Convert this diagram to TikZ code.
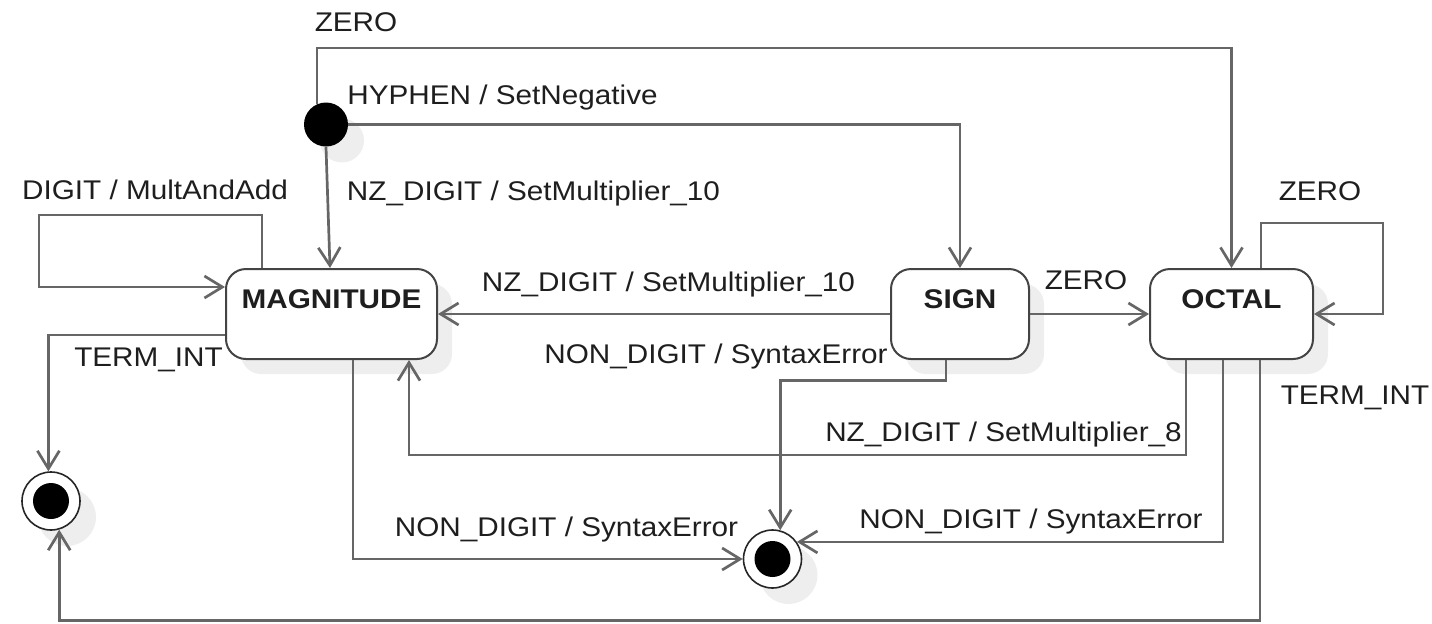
\documentclass[tikz,border=0pt]{standalone}
\usepackage{fontspec}
\setmainfont{Liberation Sans}[FakeStretch=1.1]
\usetikzlibrary{arrows.meta,calc,shadows}
\definecolor{edgecol}{HTML}{666666}
\definecolor{bordercol}{HTML}{444444}
\definecolor{textcol}{HTML}{1E1E1E}
\definecolor{shadowcol}{HTML}{EEEEEE}
\begin{document}
\begin{tikzpicture}[x=0.5pt,y=-0.5pt,
  every node/.style={font=\fontsize{13.5pt}{16pt}\selectfont, text=textcol},
  stbox/.style={draw=bordercol, line width=1pt, fill=white, rounded corners=10pt,
    minimum height=45pt, inner sep=0pt,
    general shadow={fill=shadowcol, shadow xshift=7.5pt, shadow yshift=-7.5pt}},
  title/.style={anchor=base, inner sep=0pt, font=\fontsize{13.5pt}{16pt}\selectfont\bfseries},
  initdot/.style={circle, fill=black, minimum size=22pt, inner sep=0pt,
    general shadow={fill=shadowcol, shadow xshift=8pt, shadow yshift=-8pt}},
  finalstate/.style={circle, draw=black!85, line width=0.8pt, fill=white, minimum size=29pt, inner sep=0pt,
    path picture={\fill[black] (path picture bounding box.center) circle (9pt);},
    general shadow={fill=shadowcol, shadow xshift=8pt, shadow yshift=-8pt}},
  lbl/.style={anchor=base, inner sep=0pt},
  conn/.style={draw=edgecol, line width=1.35pt, -{Straight Barb[length=9pt,width=11pt]}}
]
\useasboundingbox (0,0) rectangle (1432,623);

% states
\node[stbox, minimum width=105.5pt] (mag) at (331.5,314) {};
\node[stbox, minimum width=69pt] (sign) at (960,314) {};
\node[stbox, minimum width=81.5pt] (octal) at (1231.5,314) {};
\node[title] (magT) at ($(mag.north)+(0,40)$) {MAGNITUDE};
\node[title] (signT) at ($(sign.north)+(0,40)$) {SIGN};
\node[title] (octalT) at ($(octal.north)+(0,40)$) {OCTAL};
\node[initdot] (init) at (326,124.5) {};
\node[finalstate] (finL) at (51,501) {};
\node[finalstate] (finM) at (772.5,559) {};

% transitions from initial
\draw[conn] (init.114) |- ($(octal.north)+(0,-220)$) -- (octal.north);
\draw[conn] (init.east) -| (sign.north);
\draw[conn] (init.south) -- ($(mag.north)+(-1.5,0)$);

% magnitude
\draw[conn] ($(mag.north west)+(37,0)$) |- ($(mag.west)+(-186,-99)$) |- ($(mag.west)+(0,-27)$);
\draw[conn] ($(mag.west)+(0,21)$) -| (finL.95);
\draw[conn] ($(mag.south west)+(128,0)$) |- (finM.west);

% sign
\draw[conn] (sign.west) -- (mag.east);
\draw[conn] (sign.east) -- (octal.west);
\draw[conn] ($(sign.south west)+(56,0)$) |- ($(finM.75)+(0,-150)$) -- (finM.75);

% octal
\draw[conn] ($(octal.north west)+(112,0)$) |- ($(octal.east)+(69,-91)$) |- (octal.east);
\draw[conn] ($(octal.south west)+(37,0)$) |- ($(mag.south west)+(184,95)$) -- ($(mag.south west)+(184,0)$);
\draw[conn] ($(octal.south west)+(74,0)$) |- (finM.35);
\draw[conn] ($(octal.south west)+(111,0)$) |- ($(finL.-74)+(0,91)$) -- (finL.-74);

% labels
\node[lbl] (l1) at (356,31) {ZERO};
\node[lbl] (l2) at (502.5,104) {HYPHEN / SetNegative};
\node[lbl] (l3) at (533.5,200) {NZ\_DIGIT / SetMultiplier\_10};
\node[lbl] (l4) at (155,199) {DIGIT / MultAndAdd};
\node[lbl] (l5) at (148.5,366) {TERM\_INT};
\node[lbl] (l6) at (668.5,291) {NZ\_DIGIT / SetMultiplier\_10};
\node[lbl] (l7) at (716,363) {NON\_DIGIT / SyntaxError};
\node[lbl] (l8) at (1086,289) {ZERO};
\node[lbl] (l9) at (1320,200) {ZERO};
\node[lbl] (l10) at (1355,404) {TERM\_INT};
\node[lbl] (l11) at (1003.5,441) {NZ\_DIGIT / SetMultiplier\_8};
\node[lbl] (l12) at (1031,528) {NON\_DIGIT / SyntaxError};
\node[lbl] (l13) at (566.5,536) {NON\_DIGIT / SyntaxError};
\end{tikzpicture}
\end{document}
